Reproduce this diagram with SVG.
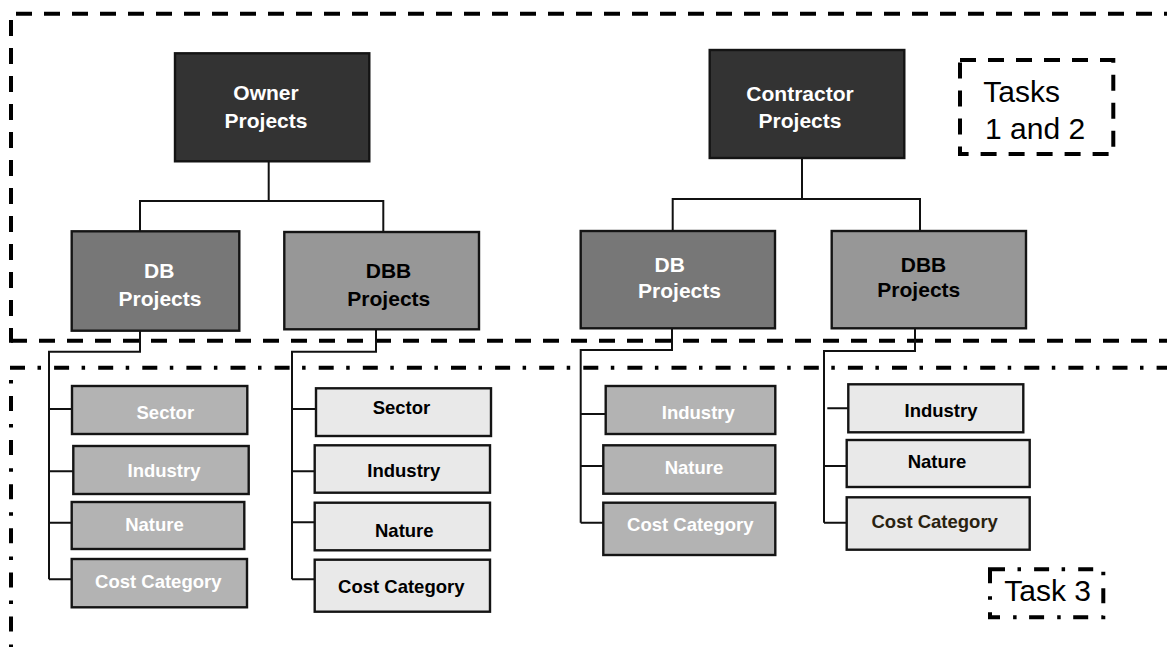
<svg xmlns="http://www.w3.org/2000/svg" width="1167" height="647" viewBox="0 0 1167 647">
  <style>
    .region { fill: none; stroke: #000; stroke-width: 4; }
    .dash { stroke-dasharray: 16 12; }
    .dashdot { stroke-dasharray: 15 12.5 3.5 13.1; }
    .wire { fill: none; stroke: #111; stroke-width: 2; }
    .box { stroke: #141414; stroke-width: 2.4; }
    .top { fill: #333333; }
    .db { fill: #777777; }
    .dbb { fill: #979797; }
    .dbsub { fill: #b3b3b3; }
    .dbbsub { fill: #e9e9e9; }
    text { font-family: "Liberation Sans", Arial, sans-serif; text-anchor: middle; }
    .t1 { font-size: 21px; font-weight: bold; }
    .t2 { font-size: 18.5px; font-weight: bold; }
    .w { fill: #ffffff; }
    .k { fill: #000000; }
    .lbl { font-size: 30px; fill: #000; text-anchor: start; }
  </style>

  <!-- Region outlines: tasks 1 and 2 (dashed), task 3 (dash-dot) -->
  <g id="regions">
    <line class="region dash" x1="16" y1="13.7" x2="1167" y2="13.7"/>
    <line class="region dash" x1="11" y1="20" x2="11" y2="342.7"/>
    <line class="region dash" x1="11" y1="340.7" x2="1167" y2="340.7"/>
    <line class="region dashdot" x1="10" y1="367.7" x2="1167" y2="367.7"/>
    <line class="region" stroke-dasharray="3.5 12.5 15 13.1" x1="11" y1="380" x2="11" y2="647"/>
  </g>

  <!-- Connectors -->
  <g id="connectors" class="wire">
    <!-- Owner tree -->
    <path d="M268.7,161 V201 M140,231.3 V201 H383.3 V232"/>
    <path d="M140,330.7 V351.7 H49 V579.3 M49,409 H72 M49,471.3 H73.3 M49,522.7 H71.7 M49,579.3 H71.7"/>
    <path d="M376,329.3 V351.7 H292 V579.3 M292,409 H316 M292,471.3 H314.7 M292,522.3 H314.7 M292,579.3 H314.7"/>
    <!-- Contractor tree -->
    <path d="M802,158 V199 M672.7,231 V199 H920 V231"/>
    <path d="M672,328.3 V350 H580.7 V522.7 M580.7,414 H605.7 M580.7,466 H603.3 M580.7,522.7 H603.3"/>
    <path d="M915,328.3 V351 H824 V522.7 M827.3,408.3 H848.3 M824,466 H846.7 M824,522.7 H846.7"/>
  </g>

  <!-- Owner side -->
  <g id="owner-projects">
    <rect class="box top" x="175" y="53.3" width="194.3" height="108"/>
    <text class="t1 w" x="266" y="100">Owner</text>
    <text class="t1 w" x="266" y="127.7">Projects</text>
  </g>
  <g id="owner-db">
    <rect class="box db" x="71.7" y="231.3" width="167.6" height="99.4"/>
    <text class="t1 w" x="159.2" y="278.3">DB</text>
    <text class="t1 w" x="160" y="306">Projects</text>
  </g>
  <g id="owner-dbb">
    <rect class="box dbb" x="284.3" y="232" width="194.7" height="97.3"/>
    <text class="t1 k" x="388.5" y="278.3">DBB</text>
    <text class="t1 k" x="388.8" y="306">Projects</text>
  </g>

  <g id="owner-db-sector">
    <rect class="box dbsub" x="72" y="386" width="175.3" height="48"/>
    <text class="t2 w" x="165.3" y="419.3">Sector</text>
  </g>
  <g id="owner-db-industry">
    <rect class="box dbsub" x="73.3" y="446" width="175.4" height="48"/>
    <text class="t2 w" x="164" y="477.3">Industry</text>
  </g>
  <g id="owner-db-nature">
    <rect class="box dbsub" x="71.7" y="502" width="172.6" height="47"/>
    <text class="t2 w" x="154.5" y="530.7">Nature</text>
  </g>
  <g id="owner-db-cost">
    <rect class="box dbsub" x="71.7" y="559" width="175.3" height="48.3"/>
    <text class="t2 w" x="158.3" y="587.7">Cost Category</text>
  </g>

  <g id="owner-dbb-sector">
    <rect class="box dbbsub" x="316" y="388.3" width="175" height="47.7"/>
    <text class="t2 k" x="401.5" y="414">Sector</text>
  </g>
  <g id="owner-dbb-industry">
    <rect class="box dbbsub" x="314.7" y="445.3" width="175.3" height="47.4"/>
    <text class="t2 k" x="403.8" y="476.7">Industry</text>
  </g>
  <g id="owner-dbb-nature">
    <rect class="box dbbsub" x="314.7" y="502.7" width="175.3" height="47.6"/>
    <text class="t2 k" x="404.3" y="536.7">Nature</text>
  </g>
  <g id="owner-dbb-cost">
    <rect class="box dbbsub" x="314.7" y="559.7" width="175.3" height="52"/>
    <text class="t2 k" x="401.3" y="593.3">Cost Category</text>
  </g>

  <!-- Contractor side -->
  <g id="contractor-projects">
    <rect class="box top" x="709.7" y="50" width="194.6" height="108"/>
    <text class="t1 w" x="800" y="101">Contractor</text>
    <text class="t1 w" x="800" y="128.3">Projects</text>
  </g>
  <g id="contractor-db">
    <rect class="box db" x="580.7" y="231" width="194.3" height="97.3"/>
    <text class="t1 w" x="669.7" y="271.7">DB</text>
    <text class="t1 w" x="679.5" y="297.7">Projects</text>
  </g>
  <g id="contractor-dbb">
    <rect class="box dbb" x="831.7" y="231" width="194.3" height="97.3"/>
    <text class="t1 k" x="923.5" y="271.7">DBB</text>
    <text class="t1 k" x="918.8" y="296.7">Projects</text>
  </g>

  <g id="contractor-db-industry">
    <rect class="box dbsub" x="605.7" y="386" width="169.6" height="48"/>
    <text class="t2 w" x="698.3" y="419.3">Industry</text>
  </g>
  <g id="contractor-db-nature">
    <rect class="box dbsub" x="603.3" y="445.3" width="172" height="48.4"/>
    <text class="t2 w" x="694" y="474">Nature</text>
  </g>
  <g id="contractor-db-cost">
    <rect class="box dbsub" x="603.3" y="502.7" width="172" height="52.3"/>
    <text class="t2 w" x="690.3" y="531">Cost Category</text>
  </g>

  <g id="contractor-dbb-industry">
    <rect class="box dbbsub" x="848.3" y="384.3" width="175" height="48"/>
    <text class="t2 k" x="941" y="417.3">Industry</text>
  </g>
  <g id="contractor-dbb-nature">
    <rect class="box dbbsub" x="846.7" y="440" width="183" height="47"/>
    <text class="t2 k" x="937" y="467.7">Nature</text>
  </g>
  <g id="contractor-dbb-cost">
    <rect class="box dbbsub" x="846.7" y="497.3" width="183" height="52.4"/>
    <text class="t2" fill="#2a2210" x="934.7" y="527.7">Cost Category</text>
  </g>

  <!-- Task labels -->
  <g id="label-tasks-1-2">
    <rect class="region dash" x="960" y="60" width="153.3" height="94" stroke-dasharray="15 12.7"/>
    <text class="lbl" x="983.3" y="101.7">Tasks</text>
    <text class="lbl" x="985" y="138.7">1 and 2</text>
  </g>
  <g id="label-task-3">
    <rect class="region dashdot" x="990" y="569.3" width="113.3" height="48"/>
    <text class="lbl" x="1004.3" y="600.7">Task 3</text>
  </g>
</svg>
